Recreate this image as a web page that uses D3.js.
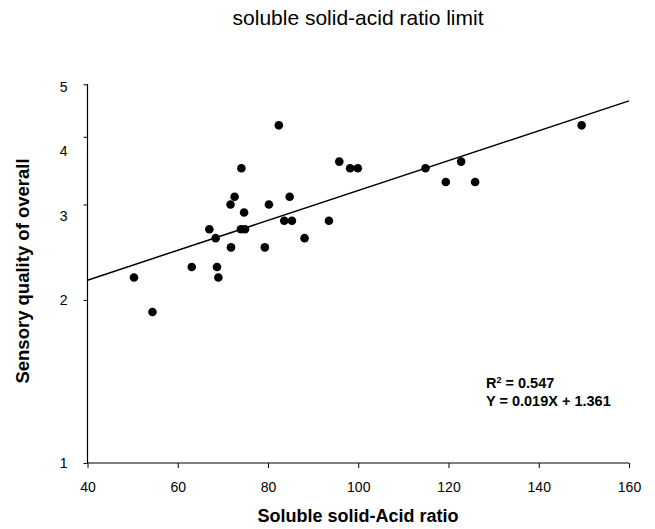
<!DOCTYPE html>
<html>
<head>
<meta charset="utf-8">
<script src="https://cdn.jsdelivr.net/npm/d3@7/dist/d3.min.js"></script>
<style>
  body { margin: 0; background: #fff; }
  svg text { font-family: "Liberation Sans", Arial, sans-serif; fill: #000; }
</style>
</head>
<body>
<svg id="chart" width="655" height="529"></svg>
<script>
// data
let ratio = [50.3, 54.4, 63.1, 67.0, 68.4, 68.7, 69.0, 71.7, 72.6, 71.8,
             74.1, 74.7, 74.0, 74.9, 79.3, 80.2, 82.4, 83.6, 85.3, 84.8,
             88.1, 95.8, 98.2, 99.9, 93.5, 114.9, 119.4, 122.8, 125.9, 149.5];
let sensory = [2.2, 1.9, 2.3, 2.7, 2.6, 2.3, 2.2, 3.0, 3.1, 2.5,
               3.5, 2.9, 2.7, 2.7, 2.5, 3.0, 4.2, 2.8, 2.8, 3.1,
               2.6, 3.6, 3.5, 3.5, 2.8, 3.5, 3.3, 3.6, 3.3, 4.2];
// fitted line as drawn (end points at x = 40 and 160)
let fitX = [40, 160];
let fitY = [2.175, 4.66];
let xTicks = [40, 60, 80, 100, 120, 140, 160];
let yTicks = [1, 2, 3, 4, 5];

let title = "soluble solid-acid ratio limit";
let xTitle = "Soluble solid-Acid ratio";
let yTitle = "Sensory quality of overall";

let svg = d3.select("#chart");
let plotLeft = 87.5, plotRight = 629, plotTop = 84.3, plotBottom = 463;

let xScale = d3.scaleLinear().domain([40, 160]).range([plotLeft, plotRight]);
let yScale = d3.scaleLog().domain([1, 5]).range([plotBottom, plotTop]);

// title
svg.append("text")
  .attr("x", 358).attr("y", 25)
  .attr("text-anchor", "middle")
  .style("font-size", "21px")
  .text(title);

// axes
let xAxis = d3.axisBottom(xScale).tickValues(xTicks).tickSize(5).tickPadding(14)
  .tickFormat(d3.format("d"));
let gx = svg.append("g").attr("transform", "translate(0," + plotBottom + ")").call(xAxis);

let yAxis = d3.axisLeft(yScale).tickValues(yTicks).tickSize(4).tickPadding(16)
  .tickFormat(d3.format("d"));
let gy = svg.append("g").attr("transform", "translate(" + plotLeft + ",0)").call(yAxis);

// the labels in the picture sit a bit below some of the ticks
let labelShift = {5: 3, 4: 14, 3: 12};
gy.selectAll(".tick text").attr("y", d => labelShift[d] || 0);

[gx, gy].forEach(g => {
  g.select(".domain").attr("stroke", "#000").attr("stroke-width", 1.2);
  g.selectAll(".tick line").attr("stroke", "#000").attr("stroke-width", 1);
  g.selectAll(".tick text").style("font-size", "14px")
    .style("font-family", "'Liberation Sans', Arial, sans-serif").attr("fill", "#000");
});
gx.select(".domain").attr("d", "M" + plotLeft + ",0H" + plotRight);
gy.select(".domain").attr("d", "M0," + plotTop + "V" + plotBottom);

// axis titles
svg.append("text")
  .attr("x", 358).attr("y", 522)
  .attr("text-anchor", "middle")
  .style("font-size", "18px").style("font-weight", "bold")
  .text(xTitle);

svg.append("text")
  .attr("transform", "translate(29,271) rotate(-90)")
  .attr("text-anchor", "middle")
  .style("font-size", "18.5px").style("font-weight", "bold")
  .text(yTitle);

// regression line
let fit = fitX.map((x, i) => ({x: x, y: fitY[i]}));
let line = d3.line().x(d => xScale(d.x)).y(d => yScale(d.y));
svg.append("path")
  .attr("d", line(fit))
  .attr("fill", "none")
  .attr("stroke", "#000")
  .attr("stroke-width", 1.5);

// points
let points = ratio.map((r, i) => ({x: r, y: sensory[i]}));
svg.append("g").selectAll("circle")
  .data(points)
  .join("circle")
  .attr("cx", d => xScale(d.x))
  .attr("cy", d => yScale(d.y))
  .attr("r", 4.3)
  .attr("fill", "#000");

// equation
let eq = svg.append("g").style("font-size", "14.5px").style("font-weight", "bold");
let r2 = eq.append("text").attr("x", 486).attr("y", 388);
r2.append("tspan").text("R");
r2.append("tspan").attr("dy", -5).style("font-size", "9px").text("2");
r2.append("tspan").attr("dy", 5).text(" = 0.547");
eq.append("text").attr("x", 486).attr("y", 406).text("Y = 0.019X + 1.361");
</script>
</body>
</html>
